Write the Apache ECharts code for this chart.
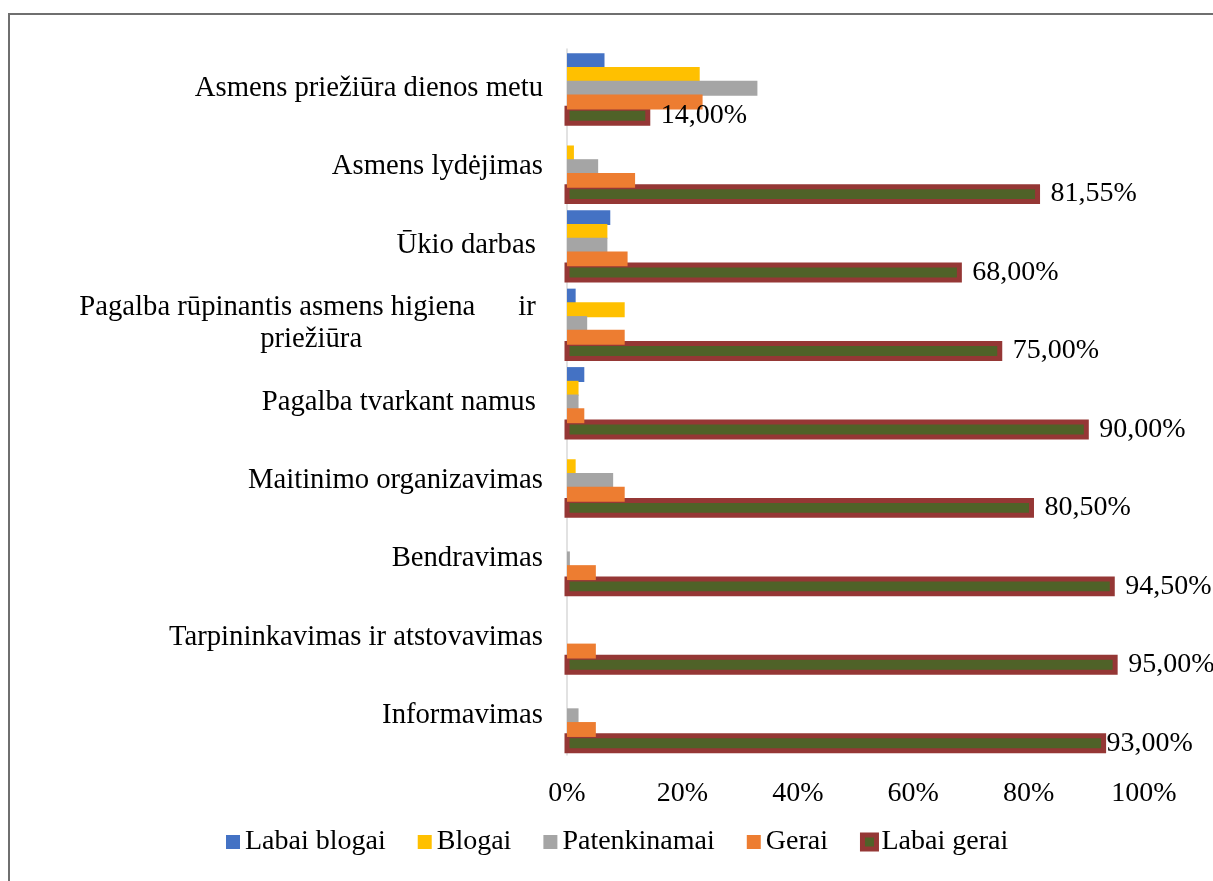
<!DOCTYPE html>
<html>
<head>
<meta charset="utf-8">
<script src="https://cdn.jsdelivr.net/npm/echarts@6/dist/echarts.min.js"></script>
<style>
  html, body { margin: 0; padding: 0; background: #fff; overflow: hidden; }
  #frame { position: absolute; left: 8px; top: 13px; width: 1400px; height: 1000px; border: 2px solid #6f6f6f; }
  #chart { position: absolute; left: 0; top: 0; width: 1213px; height: 881px; }
</style>
</head>
<body>
<div id="frame"></div>
<div id="chart"></div>
<script>
const categories = [
  'Asmens priežiūra dienos metu',
  'Asmens lydėjimas',
  'Ūkio darbas ',
  'Pagalba rūpinantis asmens higiena      ir \npriežiūra',
  'Pagalba tvarkant namus ',
  'Maitinimo organizavimas',
  'Bendravimas',
  'Tarpininkavimas ir atstovavimas',
  'Informavimas',
]
const seriesNames = ['Labai blogai', 'Blogai', 'Patenkinamai', 'Gerai', 'Labai gerai']
const labaiBlogai = [6.5, 0, 7.5, 1.5, 3, 0, 0, 0, 0]
const blogai = [23, 1.2, 7, 10, 2, 1.5, 0, 0, 0]
const patenkinamai = [33, 5.4, 7, 3.5, 2, 8, 0.5, 0, 2]
const gerai = [23.5, 11.8, 10.5, 10, 3, 10, 5, 5, 5]
const labaiGerai = [14, 81.55, 68, 75, 90, 80.5, 94.5, 95, 93]
const xTicks = [0, 20, 40, 60, 80, 100]

const font = 'Liberation Serif'
const colors = ['#4472C4', '#FFC000', '#A5A5A5', '#ED7D31', '#4F6228']
const borderRed = '#953735'
const values = [labaiBlogai, blogai, patenkinamai, gerai, labaiGerai]
const BAR_GAP = -0.08
const CAT_GAP = 0.11

const chart = echarts.init(document.getElementById('chart'))

// the last label sits closer to its bar in the original
const labelDistance = (i) => (i === categories.length - 1 ? 3 : 13)

const series = seriesNames.map((name, k) => ({
  name,
  type: 'bar',
  barGap: BAR_GAP * 100 + '%',
  barCategoryGap: CAT_GAP * 100 + '%',
  itemStyle: { color: colors[k] },
  data: values[k],
}))

// "Labai gerai": the bar slot keeps the layout and the labels, the visible
// bar is drawn by a custom series so the red border can sit on the edge
series[4].itemStyle = { color: 'rgba(0,0,0,0)' }
series[4].z = 3
series[4].data = labaiGerai.map((v, i) => ({ value: v, label: { distance: labelDistance(i) } }))
series[4].label = {
  show: true,
  position: 'right',
  fontFamily: font,
  fontSize: 28,
  color: '#000',
  formatter: (p) => p.value.toFixed(2).replace('.', ',') + '%',
}

series.push({
  name: 'Labai gerai',
  type: 'custom',
  z: 1,
  encode: { x: 0, y: 1 },
  data: labaiGerai.map((v, i) => [v, i]),
  renderItem: (params, api) => {
    const i = api.value(1)
    const p0 = api.coord([0, i])
    const p1 = api.coord([api.value(0), i])
    const band = api.size([0, 1])[1]
    const n = seriesNames.length
    const w = (band * (1 - CAT_GAP)) / (n + (n - 1) * BAR_GAP)
    const total = n * w + (n - 1) * w * BAR_GAP
    const yc = p0[1] - total / 2 + (n - 1) * w * (1 + BAR_GAP) + w / 2
    return {
      type: 'rect',
      shape: { x: p0[0], y: yc - w / 2, width: p1[0] - p0[0], height: w },
      style: { fill: colors[4], stroke: borderRed, lineWidth: 5 },
    }
  },
})

chart.setOption({
  animation: false,
  textStyle: { fontFamily: font },
  grid: { left: 567, right: 69, top: 49, bottom: 126 },
  xAxis: {
    type: 'value',
    min: xTicks[0],
    max: xTicks[xTicks.length - 1],
    interval: xTicks[1] - xTicks[0],
    axisLine: { show: false },
    axisTick: { show: false },
    splitLine: { show: false },
    axisLabel: { fontFamily: font, fontSize: 28, color: '#000', margin: 25, formatter: '{value}%' },
  },
  yAxis: {
    type: 'category',
    inverse: true,
    data: categories,
    axisLine: { show: true, lineStyle: { color: '#D9D9D9', width: 1.5 } },
    axisTick: { show: false },
    axisLabel: {
      fontFamily: font,
      fontSize: 28.7,
      color: '#000',
      margin: 24,
      formatter: (v) =>
        v.includes('\n') ? v.split('\n').map((l) => '{c|' + l + '}').join('\n') : v,
      rich: { c: { align: 'center', fontFamily: font, fontSize: 28.7, color: '#000', lineHeight: 32 } },
    },
  },
  legend: {
    left: 221,
    top: 823,
    itemWidth: 14,
    itemHeight: 14,
    itemGap: 32,
    icon: 'rect',
    textStyle: { fontFamily: font, fontSize: 28, color: '#000' },
    data: seriesNames.map((n, k) =>
      k === 4
        ? { name: n, itemStyle: { color: colors[4], borderWidth: 5, borderColor: borderRed } }
        : { name: n },
    ),
  },
  series,
})
</script>
</body>
</html>
